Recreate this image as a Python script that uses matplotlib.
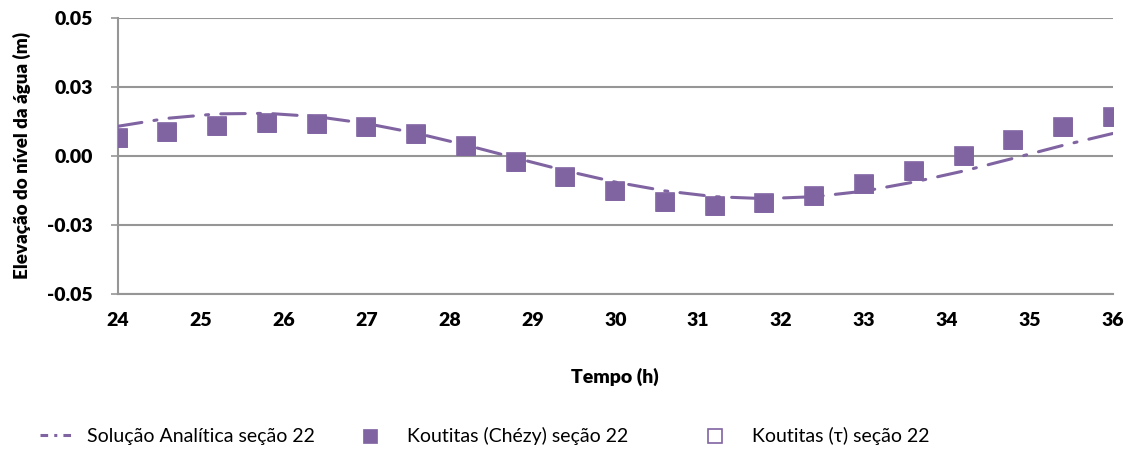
import matplotlib
matplotlib.use("Agg")
from matplotlib import pyplot as plt
from matplotlib.lines import Line2D
from matplotlib.ticker import FixedLocator, FixedFormatter

plt.rcParams['font.family'] = ['Lato', 'DejaVu Sans']

## Data
tempo = [24.0, 24.6, 25.2, 25.8, 26.4, 27.0, 27.6, 28.2, 28.8, 29.4, 30.0,
         30.6, 31.2, 31.8, 32.4, 33.0, 33.6, 34.2, 34.8, 35.4, 36.0]
analitica = [0.0107, 0.0136, 0.0152, 0.0154, 0.0142, 0.0117, 0.0082, 0.0039, -0.0008, -0.0054, -0.0095,
             -0.0127, -0.0148, -0.0155, -0.0148, -0.0128, -0.0095, -0.0055, -0.0009, 0.0038, 0.0081]
koutitas_chezy = [0.0066, 0.0088, 0.0109, 0.0118, 0.0116, 0.0106, 0.0080, 0.0034, -0.0021, -0.0077, -0.0127,
                  -0.0168, -0.0180, -0.0171, -0.0147, -0.0103, -0.0054, 0.0001, 0.0058, 0.0106, 0.0142]
koutitas_tau = list(koutitas_chezy)

y_ticks = [-0.05, -0.025, 0.0, 0.025, 0.05]
y_tick_labels = ["-0.05", "-0.03", "0.00", "0.03", "0.05"]
x_ticks = [24, 25, 26, 27, 28, 29, 30, 31, 32, 33, 34, 35, 36]

purple = "#8064A2"
grey = "#969696"

fig = plt.figure(figsize=(11.32, 4.57), dpi=100)
ax = fig.add_axes([0.104, 0.357, 0.879, 0.604])

line_an, = ax.plot(tempo, analitica, color=purple, linewidth=2.2, dashes=(8, 4, 1, 4),
                   dash_capstyle='round', label="Solução Analítica seção 22", zorder=3)
pts_tau, = ax.plot(tempo, koutitas_tau, linestyle='none', marker='s', markersize=13.5,
                   markerfacecolor='none', markeredgecolor=purple, markeredgewidth=1.2,
                   label="Koutitas (τ) seção 22", zorder=4)
pts_chezy, = ax.plot(tempo, koutitas_chezy, linestyle='none', marker='s', markersize=13.5,
                     markerfacecolor=purple, markeredgecolor=purple, markeredgewidth=0.5,
                     label="Koutitas (Chézy) seção 22", zorder=5)

ax.set_xlim(24, 36)
ax.set_ylim(-0.05, 0.05)
ax.xaxis.set_major_locator(FixedLocator(x_ticks))
ax.yaxis.set_major_locator(FixedLocator(y_ticks))
ax.yaxis.set_major_formatter(FixedFormatter(y_tick_labels))
ax.tick_params(axis='x', length=0, pad=13, labelsize=14)
ax.tick_params(axis='y', length=5, width=1.2, color=grey, pad=13, labelsize=14)
for lab in ax.get_xticklabels() + ax.get_yticklabels():
    lab.set_fontweight('heavy')

ax.grid(True, axis='y', color=grey, linewidth=1.5)
ax.set_axisbelow(True)
for side in ["top", "right"]:
    ax.spines[side].set_visible(False)
ax.spines["left"].set_color(grey)
ax.spines["left"].set_linewidth(1.5)
ax.spines["bottom"].set_color(grey)
ax.spines["bottom"].set_linewidth(1.5)

ax.set_xlabel("Tempo (h)", fontsize=14, fontweight='heavy', labelpad=28)
ax.set_ylabel("Elevação do nível da água (m)", fontsize=13.5, fontweight='heavy')
ax.yaxis.set_label_coords(-0.087, 0.5)

## One legend box per entry, to place them like the original
leg_line = Line2D([], [], color=purple, linewidth=2.2, dashes=(2.5, 2, 1, 2))
leg_kw = dict(loc='center left', frameon=False, fontsize=14, borderpad=0,
              borderaxespad=0, markerscale=0.7)
fig.legend([leg_line], [line_an.get_label()], bbox_to_anchor=(40 / 1132, 0.045),
           handlelength=1.8, handletextpad=0.6, **leg_kw)
fig.legend([pts_chezy], [pts_chezy.get_label()], bbox_to_anchor=(351 / 1132, 0.045),
           handlelength=2.0, handletextpad=0.9, **leg_kw)
fig.legend([pts_tau], [pts_tau.get_label()], bbox_to_anchor=(696 / 1132, 0.045),
           handlelength=2.0, handletextpad=0.9, **leg_kw)

fig.savefig("out.png", dpi=100)
